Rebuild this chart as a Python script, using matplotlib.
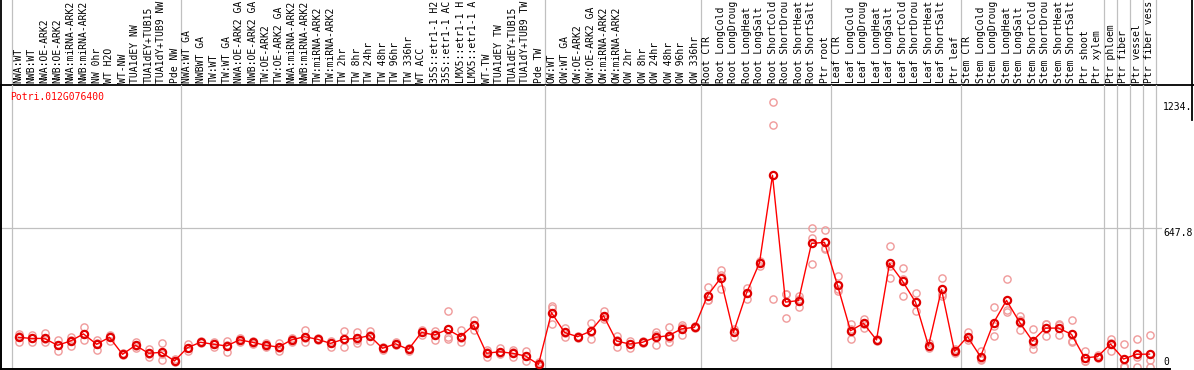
import numpy as np
import matplotlib
matplotlib.use("Agg")
import matplotlib.pyplot as plt
from matplotlib.lines import Line2D

# sample names (as shown in the header)
samples = [
    "NWA:WT", "NWB:WT", "NWA:OE-ARK2", "NWB:OE-ARK2", "NWA:miRNA-ARK2",
    "NWB:miRNA-ARK2", "NW 0hr", "WT H2O", "WT-NW", "TUA1dEY NW",
    "TUA1dEY+TUB15", "TUA1dY+TUB9 NW", "Pde NW",
    "NWA:WT GA", "NWBWT GA", "TW:WT", "TW:WT GA", "NWA:OE-ARK2 GA",
    "NWB:OE-ARK2 GA", "TW:OE-ARK2", "TW:OE-ARK2 GA", "NWA:miRNA-ARK2",
    "NWB:miRNA-ARK2", "TW:miRNA-ARK2", "TW:miRNA-ARK2", "TW 2hr", "TW 8hr",
    "TW 24hr", "TW 48hr", "TW 96hr", "TW 336hr", "WT ACC",
    "35S::etr1-1 H2", "35S::etr1-1 AC", "LMX5::etr1-1 H", "LMX5::etr1-1 A",
    "WT-TW", "TUA1dEY TW", "TUA1dEY+TUB15", "TUA1dY+TUB9 TW", "Pde TW",
    "OW:WT", "OW:WT GA", "OW:OE-ARK2", "OW:OE-ARK2 GA", "OW:miRNA-ARK2",
    "OW:miRNA-ARK2", "OW 2hr", "OW 8hr", "OW 24hr", "OW 48hr", "OW 96hr",
    "OW 336hr",
    "Root CTR", "Root LongCold", "Root LongDroug", "Root LongHeat",
    "Root LongSalt", "Root ShortCold", "Root ShortDrou", "Root ShortHeat",
    "Root ShortSalt", "Ptr root",
    "Leaf CTR", "Leaf LongCold", "Leaf LongDroug", "Leaf LongHeat",
    "Leaf LongSalt", "Leaf ShortCold", "Leaf ShortDrou", "Leaf ShortHeat",
    "Leaf ShortSalt", "Ptr leaf",
    "Stem CTR", "Stem LongCold", "Stem LongDroug", "Stem LongHeat",
    "Stem LongSalt", "Stem ShortCold", "Stem ShortDrou", "Stem ShortHeat",
    "Stem ShortSalt", "Ptr shoot", "Ptr xylem",
    "Ptr phloem", "Ptr fiber", "Ptr vessel", "Ptr fiber vess",
]

# group boundaries (index of first sample in each block)
group_starts = [0, 13, 41, 53, 63, 73, 84, 85, 86, 87, 88]

means = [
    138, 133, 133, 101, 121, 154, 106, 138, 59, 101, 64, 68, 28,
    90, 115, 106, 98, 126, 115, 101, 93, 126, 141, 129, 110, 129, 133,
    146, 87, 108, 82, 161, 149, 175, 141, 195, 64, 71, 64, 51, 12,
    253, 161, 141, 166, 239, 121, 107, 115, 138, 146, 177, 185,
    332, 413, 161, 344, 485, 892, 302, 309, 575, 580,
    380, 169, 203, 126, 482, 400, 302, 98, 361, 73,
    141, 48, 205, 310, 209, 121, 181, 181, 152, 43, 48,
    107, 37, 59, 60,
]

reps = [
    [154, 115, 145], [149, 115, 136], [157, 115, 128], [126, 76, 101],
    [141, 98, 124], [185, 126, 152], [126, 79, 113], [149, 123, 142],
    [64, 54, 59], [115, 88, 100], [83, 62, 47], [112, 60, 33], [35, 28, 21],
    [106, 76, 88], [120, 110, 115], [115, 95, 108], [123, 68, 103],
    [133, 118, 127], [123, 108, 114], [110, 95, 98], [113, 76, 90],
    [133, 115, 130], [172, 115, 136], [135, 124, 128], [123, 95, 112],
    [166, 92, 129], [162, 110, 127], [166, 123, 149], [95, 79, 87],
    [115, 101, 108], [88, 76, 82], [172, 149, 162], [166, 126, 155],
    [259, 141, 129], [172, 118, 133], [219, 172, 194], [79, 45, 68],
    [88, 64, 61], [79, 45, 68], [76, 50, 28], [24, 8, 4],
    [285, 275, 198], [183, 141, 159], [146, 136, 141], [206, 129, 163],
    [262, 222, 233], [144, 95, 124], [123, 90, 108], [120, 110, 115],
    [162, 104, 148], [185, 118, 135], [195, 149, 187], [190, 180, 185],
    [371, 312, 313], [451, 361, 427], [168, 138, 177], [369, 318, 345],
    [495, 470, 490], [1234, 1126, 315], [340, 227, 339], [332, 278, 317],
    [645, 599, 478], [637, 550, 553],
    [425, 354, 361], [200, 129, 178], [225, 183, 201], [131, 121, 126],
    [563, 413, 470], [459, 330, 411], [343, 261, 302], [110, 88, 96],
    [413, 340, 330], [85, 64, 70],
    [162, 126, 135], [76, 33, 35], [278, 144, 193], [409, 257, 264],
    [237, 172, 218], [175, 83, 105], [200, 144, 199], [195, 149, 199],
    [219, 118, 119], [73, 30, 26], [55, 44, 45],
    [132, 76, 113], [106, 5, 0], [132, 45, 0], [147, 33, 0],
]

gene = "Potri.012G076400"
tick_vals = [0, 647.8, 1234]
tick_text = ["0", "647.8", "1234."]

W, H = 1194, 370
FONT = "DejaVu Sans Mono"
FS = 7.0
GRID = "#c0c0c0"

fig = plt.figure(figsize=(W / 100, H / 100), dpi=100)
fig.patch.set_facecolor("white")


def px_to_i(p):
    return (p - 18.5) / 13.0


def px_to_v(p):
    return (367 - p) / 0.2149


# header with sample names
hx0, hx1 = 1, 1192
hax = fig.add_axes([hx0 / W, (H - 85) / H, (hx1 - hx0) / W, 85 / H])
hax.set_xlim(px_to_i(hx0), px_to_i(hx1))
hax.set_ylim(0, 85)
hax.set_xticks([])
hax.set_yticks([])
hax.spines["top"].set_visible(False)
for s in ["left", "right", "bottom"]:
    hax.spines[s].set_linewidth(1.3)
    hax.spines[s].set_color("black")
for g in group_starts:
    hax.axvline(g - 0.5, color=GRID, lw=0.9, zorder=0)
for i, name in enumerate(samples):
    hax.text(i, 2, name, rotation=90, ha="center", va="bottom",
             fontsize=FS, family=FONT, clip_on=True)

# main plot
mx0, mx1 = 1, 1170
ax = fig.add_axes([mx0 / W, 1 / H, (mx1 - mx0) / W, 284 / H])
ax.set_xlim(px_to_i(mx0), px_to_i(mx1))
ax.set_ylim(px_to_v(369), px_to_v(85))
ax.set_xticks([])
ax.set_yticks([])
ax.patch.set_alpha(0)
for s in ["top", "right"]:
    ax.spines[s].set_visible(False)
for s in ["left", "bottom"]:
    ax.spines[s].set_linewidth(1.4)
    ax.spines[s].set_color("black")
for g in group_starts:
    ax.axvline(g - 0.5, color=GRID, lw=0.9, zorder=0)
ax.plot([px_to_i(mx0), px_to_i(1161)], [647.8, 647.8], color=GRID, lw=0.9,
        zorder=0)

x = np.arange(len(samples))
for i, r in enumerate(reps):
    ax.plot([i] * len(r), r, linestyle="none", marker="o", ms=5.2,
            mfc="none", mec="#f09a9a", mew=1.0, zorder=2, clip_on=False)
ax.plot(x, means, color="red", lw=1.0, marker="o", ms=5.2, mfc="none",
        mec="#e00000", mew=1.6, zorder=3)

ax.text(px_to_i(10), px_to_v(97), gene, color="red", fontsize=FS,
        family=FONT, ha="left", va="center")

tx = px_to_i(1163)
ax.text(tx, tick_vals[2], tick_text[2], fontsize=FS, family=FONT,
        ha="left", va="top", clip_on=False)
ax.text(tx, tick_vals[1], tick_text[1], fontsize=FS, family=FONT,
        ha="left", va="top", clip_on=False)
ax.text(tx, tick_vals[0], tick_text[0], fontsize=FS, family=FONT,
        ha="left", va="bottom", clip_on=False)

# remaining frame pieces
fig.add_artist(Line2D([1192 / W, 1.0], [(H - 85) / H] * 2, color="black",
                      lw=1.3))
fig.add_artist(Line2D([1192 / W] * 2, [(H - 85) / H, (H - 120) / H],
                      color="black", lw=1.3))

fig.savefig("out.png", dpi=100)
